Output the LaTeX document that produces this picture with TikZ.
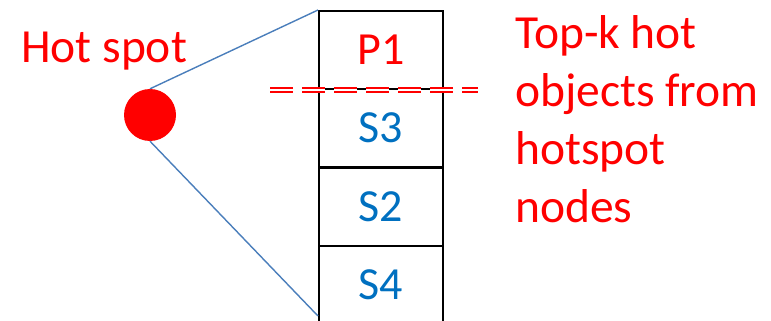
\documentclass[tikz,border=0pt]{standalone}
\usepackage{fontspec}
\setmainfont{Carlito}
\definecolor{txtblue}{HTML}{0070C0}
\definecolor{lineblue}{HTML}{4A7EBB}
\definecolor{hotred}{HTML}{FF0000}
\tikzset{
  cell/.style={draw=black, line width=2.2pt, minimum width=124pt, minimum height=78pt, inner sep=0pt, anchor=north west, text=txtblue, font=\fontsize{46}{46}\selectfont},
  conn/.style={draw=lineblue, line width=1.4pt},
  redtext/.style={text=hotred, inner sep=0pt, font=\fontsize{47.5}{58}\selectfont},
  cutline/.style={draw=hotred, line width=2.8pt, double=white, double distance=1.1pt, dash pattern=on 23pt off 9pt}
}
\begin{document}
\begin{tikzpicture}[x=1pt, y=-1pt]
\useasboundingbox (0,0) rectangle (771,321);
\node[cell, text=hotred] (p1) at (318,10) {P1};
\node[cell] (s3) at (318,88) {S3};
\node[cell] (s2) at (318,167) {S2};
\node[cell] (s4) at (318,245) {S4};
\node[circle, fill=hotred, minimum size=52pt, inner sep=0pt] (hs) at (150,115) {};
\coordinate (low) at (318,316);
\draw[conn] (hs.north) -- (p1.north west);
\draw[conn] (hs.south) -- (low);
\node[redtext, anchor=base west] (hstext) at (21,63) {Hot spot};
\node[redtext, anchor=base west, align=left] (topk) at (515,222) {Top-k hot\\objects from\\hotspot\\nodes};
\coordinate (cutl) at (270,90);
\coordinate (cutr) at (478,90);
\draw[cutline] (cutl) -- (cutr);
\end{tikzpicture}
\end{document}
